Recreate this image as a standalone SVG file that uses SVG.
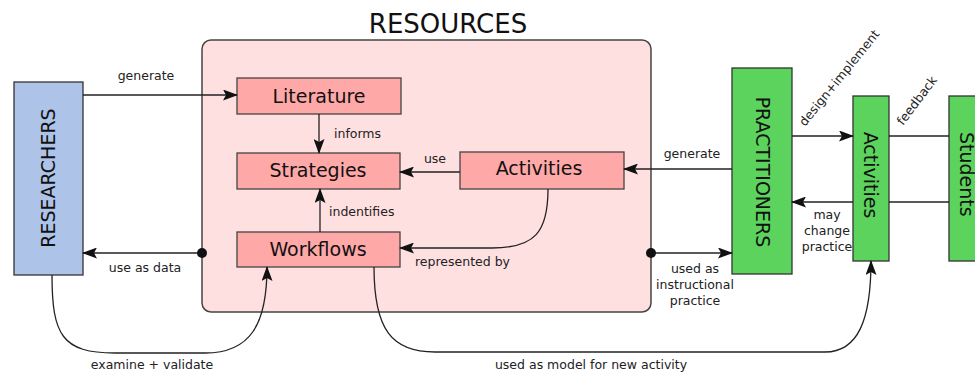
<svg xmlns="http://www.w3.org/2000/svg" width="975" height="373" viewBox="0 0 975 373">
<style>
.lbl{font-family:"DejaVu Sans",sans-serif;font-size:12.5px;fill:#222}
.big{font-family:"DejaVu Sans",sans-serif;font-size:19px;fill:#111}
.node{fill:#ffa8a8;stroke:#444;stroke-width:1.3}
.grn{fill:#5cd35c;stroke:#333;stroke-width:1.3}
.con{fill:none;stroke:#222;stroke-width:1.3}
</style>
<defs>
<marker id="ah" viewBox="0 0 15 11" refX="14" refY="5.5" markerWidth="15" markerHeight="11" markerUnits="userSpaceOnUse" orient="auto">
<path d="M0,0 L15,5.5 L0,11 L3,5.5 Z" fill="#111"/>
</marker>
</defs>
<g id="resources">
<rect x="202" y="40" width="449" height="272" rx="9" fill="#ffe0e0" stroke="#444" stroke-width="1.5"/>
<text x="448" y="33" text-anchor="middle" font-family="DejaVu Sans,sans-serif" font-size="26" fill="#111">RESOURCES</text>
</g>
<g id="researchers">
<rect x="14" y="82" width="69" height="193" fill="#adc3e8" stroke="#333" stroke-width="1.3"/>
<text class="big" transform="translate(55,178) rotate(-90)" text-anchor="middle" font-size="20">RESEARCHERS</text>
</g>
<g id="literature">
<rect class="node" x="237" y="78" width="164" height="36"/>
<text class="big" x="319" y="103" text-anchor="middle">Literature</text>
</g>
<g id="strategies">
<rect class="node" x="237" y="153" width="163" height="36"/>
<text class="big" x="318" y="177" text-anchor="middle">Strategies</text>
</g>
<g id="activities-res">
<rect class="node" x="460" y="152" width="164" height="37"/>
<text class="big" x="539" y="175" text-anchor="middle">Activities</text>
</g>
<g id="workflows">
<rect class="node" x="237" y="232" width="163" height="35"/>
<text class="big" x="318" y="256" text-anchor="middle">Workflows</text>
</g>
<g id="practitioners">
<rect class="grn" x="732" y="68" width="60" height="206"/>
<text class="big" transform="translate(756,172) rotate(90)" text-anchor="middle" font-size="19.5">PRACTITIONERS</text>
</g>
<g id="activities">
<rect class="grn" x="853" y="96" width="36" height="165"/>
<text class="big" transform="translate(864,175) rotate(90)" text-anchor="middle">Activities</text>
</g>
<g id="students">
<rect class="grn" x="949" y="96" width="40" height="165"/>
<text class="big" transform="translate(960,132) rotate(90)" text-anchor="start">Students</text>
</g>
<g id="connectors">
<path class="con" d="M83,95 L237,95" marker-end="url(#ah)"/>
<text class="lbl" x="146" y="80" text-anchor="middle">generate</text>
<path class="con" d="M319,114 L319,153" marker-end="url(#ah)"/>
<text class="lbl" x="334" y="138">informs</text>
<path class="con" d="M460,172 L400,172" marker-end="url(#ah)"/>
<text class="lbl" x="435" y="163" text-anchor="middle">use</text>
<path class="con" d="M320,232 L320,189" marker-end="url(#ah)"/>
<text class="lbl" x="329" y="216">indentifies</text>
<path class="con" d="M548,189 C548,232 535,248 492,248 L400,248" marker-end="url(#ah)"/>
<text class="lbl" x="415" y="266">represented by</text>
<path class="con" d="M202,253 L83,253" marker-end="url(#ah)"/>
<circle cx="202" cy="253" r="5" fill="#111"/>
<text class="lbl" x="145" y="272" text-anchor="middle">use as data</text>
<path class="con" d="M52,275 C52,335 62,353 115,353 L205,353 C250,353 267,325 267,267" marker-end="url(#ah)"/>
<text class="lbl" x="152" y="369" text-anchor="middle">examine + validate</text>
<path class="con" d="M651,253 L732,253" marker-end="url(#ah)"/>
<circle cx="651" cy="253" r="5" fill="#111"/>
<text class="lbl" text-anchor="middle"><tspan x="695" y="273">used as</tspan><tspan x="695" y="289">instructional</tspan><tspan x="695" y="305">practice</tspan></text>
<path class="con" d="M732,169 L624,169" marker-end="url(#ah)"/>
<text class="lbl" x="692" y="158" text-anchor="middle">generate</text>
<path class="con" d="M792,136 L853,136" marker-end="url(#ah)"/>
<text class="lbl" transform="translate(805,127) rotate(-51)">design+implement</text>
<path class="con" d="M853,202 L792,202" marker-end="url(#ah)"/>
<text class="lbl" text-anchor="middle"><tspan x="827" y="219">may</tspan><tspan x="827" y="235">change</tspan><tspan x="827" y="251">practice</tspan></text>
<path class="con" d="M889,136 L949,136"/>
<path class="con" d="M889,202 L949,202"/>
<text class="lbl" transform="translate(903,126) rotate(-53)">feedback</text>
<path class="con" d="M374,267 C374,330 392,352 435,352 L825,352 C858,352 871,320 871,261" marker-end="url(#ah)"/>
<text class="lbl" x="591" y="369" text-anchor="middle">used as model for new activity</text>
</g>
</svg>
